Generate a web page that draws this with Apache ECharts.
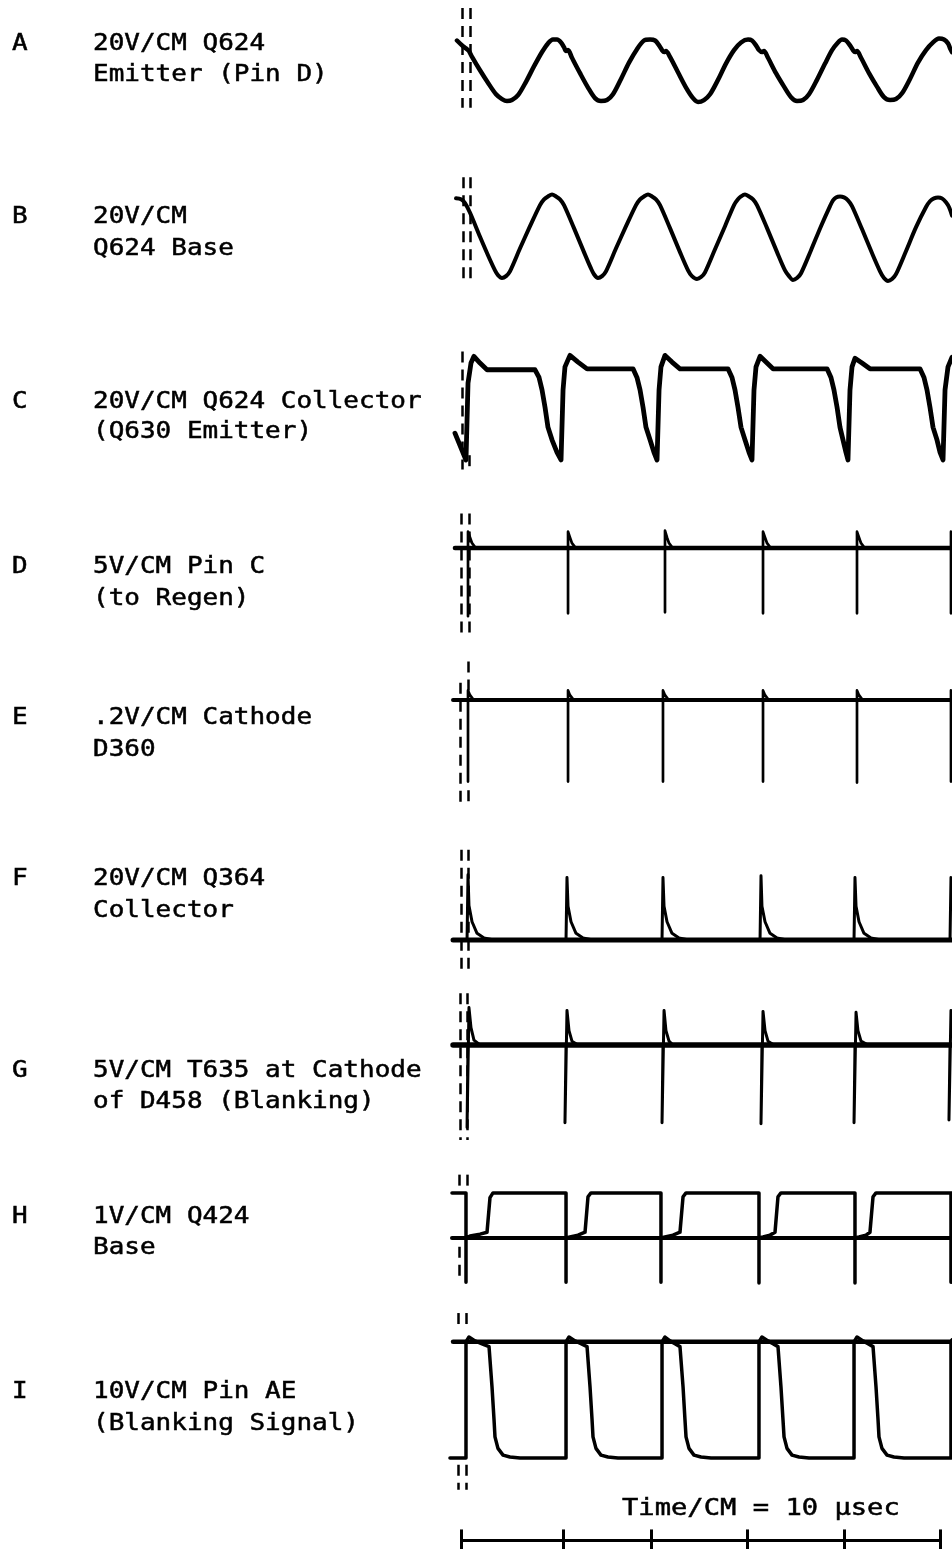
<!DOCTYPE html>
<html><head><meta charset="utf-8">
<script src="https://cdn.jsdelivr.net/npm/echarts@6/dist/echarts.min.js"></script>
<style>html,body{margin:0;padding:0;background:#fff}#c{width:952px;height:1549px}</style>
</head><body><div id="c"></div>
<script>
// ---------------- DATA (time in µs, deflection in cm of screen) ----------------
const traceLetters = ['A','B','C','D','E','F','G','H','I'];
const labelFirstLines = ['20V/CM Q624','20V/CM','20V/CM Q624 Collector','5V/CM Pin C','.2V/CM Cathode','20V/CM Q364','5V/CM T635 at Cathode','1V/CM Q424','10V/CM Pin AE'];
const labelSecondLines = ['Emitter (Pin D)','Q624 Base','(Q630 Emitter)','(to Regen)','D360','Collector','of D458 (Blanking)','Base','(Blanking Signal)'];
const timeCaption = 'Time/CM = 10 µsec';

const traceA = [[-0.42,0.63],[0.21,0.57],[0.63,0.54],[0.83,0.52],[1.15,0.46],[1.98,0.32],[2.81,0.19],[3.65,0.07],[4.27,0.02],[4.79,0],[5.31,0.01],[5.94,0.06],[6.77,0.20],[7.60,0.36],[8.44,0.51],[9.06,0.60],[9.58,0.64],[10.00,0.64],[10.42,0.61],[10.73,0.56],[10.94,0.52],[11.15,0.53],[11.56,0.45],[12.40,0.29],[13.23,0.14],[13.96,0.03],[14.58,0],[15.21,0.01],[15.83,0.07],[16.67,0.23],[17.50,0.40],[18.33,0.54],[19.06,0.63],[19.69,0.64],[20.21,0.63],[20.63,0.58],[20.94,0.53],[21.15,0.51],[21.35,0.52],[21.77,0.46],[22.60,0.30],[23.44,0.14],[24.17,0.03],[24.69,-0.01],[25.31,0.01],[25.94,0.07],[26.77,0.22],[27.60,0.39],[28.44,0.53],[29.17,0.61],[29.90,0.64],[30.31,0.63],[30.73,0.58],[31.04,0.53],[31.35,0.51],[31.56,0.52],[31.98,0.45],[32.81,0.29],[33.65,0.15],[34.38,0.04],[35.00,0],[35.63,0.01],[36.25,0.07],[37.08,0.22],[37.92,0.39],[38.65,0.53],[39.27,0.61],[39.69,0.64],[40.10,0.63],[40.52,0.58],[40.83,0.53],[41.04,0.51],[41.25,0.52],[41.67,0.45],[42.50,0.29],[43.33,0.15],[44.06,0.04],[44.69,0.01],[45.31,0.02],[45.94,0.08],[46.77,0.23],[47.60,0.40],[48.44,0.53],[49.17,0.61],[49.79,0.65],[50.31,0.64],[50.73,0.60],[50.94,0.55],[51.15,0.51]];

const traceB = [[-0.52,0.84],[0,0.83],[0.42,0.79],[0.94,0.69],[1.98,0.44],[3.02,0.20],[3.54,0.09],[3.85,0.04],[4.27,0.01],[4.69,0.03],[5.10,0.08],[6.15,0.32],[7.19,0.55],[8.23,0.77],[8.65,0.83],[9.06,0.86],[9.48,0.88],[9.90,0.86],[10.31,0.83],[10.73,0.77],[11.77,0.53],[12.81,0.28],[13.54,0.11],[13.85,0.05],[14.27,0.01],[14.69,0.03],[15.10,0.08],[16.15,0.32],[17.19,0.55],[18.23,0.77],[18.65,0.83],[19.06,0.86],[19.48,0.88],[19.90,0.86],[20.31,0.83],[20.73,0.77],[21.77,0.53],[22.81,0.28],[23.65,0.09],[24.06,0.03],[24.58,0],[25.00,0.02],[25.42,0.07],[26.46,0.31],[27.50,0.55],[28.44,0.77],[28.85,0.83],[29.17,0.86],[29.58,0.88],[30.00,0.86],[30.42,0.83],[30.83,0.77],[31.88,0.53],[32.92,0.28],[33.75,0.09],[34.17,0.03],[34.58,-0.01],[35.00,0.01],[35.42,0.06],[36.46,0.30],[37.50,0.55],[38.44,0.76],[38.75,0.82],[39.06,0.85],[39.48,0.86],[39.90,0.85],[40.31,0.82],[40.73,0.76],[41.77,0.52],[42.81,0.27],[43.65,0.08],[44.06,0.01],[44.48,-0.02],[44.90,0],[45.31,0.05],[46.35,0.29],[47.40,0.54],[48.44,0.75],[48.85,0.81],[49.27,0.84],[49.69,0.85],[50.10,0.84],[50.52,0.80],[50.83,0.75],[51.15,0.66]];

const traceC = [[-0.63,0.28],[0.52,0],[0.73,0.80],[1.04,1.01],[1.35,1.08],[1.98,1.01],[2.71,0.94],[7.71,0.94],[8.13,0.86],[8.44,0.73],[8.75,0.55],[9.06,0.34],[9.48,0.21],[10.00,0.08],[10.42,0],[10.63,0.73],[10.83,0.97],[11.35,1.09],[12.19,1.02],[13.13,0.95],[17.92,0.95],[18.33,0.86],[18.65,0.73],[18.96,0.55],[19.27,0.34],[19.69,0.21],[20.10,0.08],[20.42,0],[20.63,0.73],[20.83,0.97],[21.25,1.09],[21.98,1.02],[22.81,0.95],[27.81,0.95],[28.23,0.86],[28.54,0.73],[28.85,0.55],[29.17,0.34],[29.58,0.21],[30.00,0.08],[30.31,0],[30.52,0.73],[30.73,0.97],[31.15,1.08],[31.77,1.02],[32.50,0.95],[38.13,0.95],[38.54,0.86],[38.85,0.73],[39.17,0.55],[39.48,0.34],[39.79,0.21],[40.10,0.08],[40.31,0],[40.52,0.73],[40.73,0.97],[41.04,1.06],[41.77,1.01],[42.60,0.95],[47.81,0.95],[48.23,0.86],[48.54,0.73],[48.85,0.55],[49.17,0.34],[49.58,0.21],[49.90,0.08],[50.21,0],[50.42,0.73],[50.73,0.97],[51.15,1.07]];

const traceD = [[-0.63,0],[0.73,0],[0.73,-0.71],[0.73,0.17],[0.94,0.11],[1.15,0.05],[1.46,0.01],[1.98,0],[11.15,0],[11.15,-0.68],[11.15,0.17],[11.35,0.11],[11.56,0.05],[11.88,0.01],[12.40,0],[21.25,0],[21.25,-0.67],[21.25,0.18],[21.46,0.11],[21.67,0.05],[21.98,0.01],[22.50,0],[31.46,0],[31.46,-0.68],[31.46,0.17],[31.67,0.11],[31.88,0.05],[32.19,0.01],[32.71,0],[41.25,0],[41.25,-0.68],[41.25,0.17],[41.46,0.11],[41.67,0.05],[41.98,0.01],[42.50,0],[51.04,0],[51.04,-0.68],[51.04,0.17],[51.15,0.15]];
const traceDBase = [[-0.63,0],[51.15,0]];

const traceE = [[-0.83,0],[0.73,0],[0.73,-0.85],[0.73,0.10],[0.94,0.05],[1.25,0.01],[1.67,0],[11.15,0],[11.15,-0.85],[11.15,0.10],[11.35,0.05],[11.67,0.01],[12.08,0],[21.04,0],[21.04,-0.85],[21.04,0.10],[21.25,0.05],[21.56,0.01],[21.98,0],[31.46,0],[31.46,-0.85],[31.46,0.10],[31.67,0.05],[31.98,0.01],[32.40,0],[41.25,0],[41.25,-0.86],[41.25,0.10],[41.46,0.05],[41.77,0.01],[42.19,0],[51.04,0],[51.04,-0.85],[51.04,0.10],[51.15,0.08]];
const traceEBase = [[-0.83,0],[51.15,0]];

const traceF = [[-0.83,0],[0.63,0],[0.73,0.68],[0.83,0.36],[1.15,0.19],[1.67,0.07],[2.40,0.02],[3.44,0],[10.94,0],[11.04,0.65],[11.15,0.35],[11.46,0.19],[11.98,0.07],[12.71,0.02],[13.75,0],[20.94,0],[21.04,0.65],[21.15,0.35],[21.46,0.19],[21.98,0.07],[22.71,0.02],[23.75,0],[31.15,0],[31.25,0.67],[31.35,0.35],[31.67,0.19],[32.19,0.07],[32.92,0.02],[33.96,0],[40.94,0],[41.04,0.65],[41.15,0.35],[41.46,0.19],[41.98,0.07],[42.71,0.02],[43.75,0],[50.94,0],[51.04,0.65],[51.15,0.42]];
const traceFBase = [[-0.83,0],[51.15,0]];

const traceG = [[-0.83,0],[0.73,0],[0.63,-0.86],[0.83,0.39],[1.04,0.18],[1.35,0.05],[1.98,0],[10.94,0],[10.83,-0.81],[11.04,0.36],[11.25,0.15],[11.56,0.04],[12.19,0],[21.04,0],[20.94,-0.81],[21.15,0.36],[21.35,0.15],[21.67,0.04],[22.08,0],[31.35,0],[31.25,-0.82],[31.46,0.35],[31.67,0.15],[31.98,0.04],[32.60,0],[41.04,0],[40.94,-0.81],[41.15,0.34],[41.35,0.15],[41.67,0.04],[42.40,0],[50.94,0],[50.83,-0.78],[51.04,0.36],[51.15,0.26]];
const traceGBase = [[-0.83,0],[51.15,0]];

const traceH = [[-0.94,0.47],[0.52,0.47],[0.52,-0.46],[0.52,0],[0.94,0.02],[1.98,0.04],[2.71,0.06],[3.02,0.42],[3.33,0.47],[10.94,0.47],[10.94,-0.46],[10.94,0],[11.35,0.01],[12.19,0.03],[12.92,0.06],[13.23,0.43],[13.54,0.47],[20.83,0.47],[20.83,-0.46],[20.83,0],[21.25,0.01],[22.08,0.03],[22.81,0.06],[23.13,0.43],[23.44,0.47],[31.04,0.47],[31.04,-0.47],[31.04,0],[31.46,0.01],[32.19,0.03],[32.71,0.06],[33.02,0.43],[33.33,0.47],[41.04,0.47],[41.04,-0.47],[41.04,0],[41.46,0.01],[42.19,0.03],[42.60,0.06],[42.92,0.43],[43.23,0.47],[51.04,0.47],[51.04,-0.46],[51.04,0],[51.15,0]];
const traceHBase = [[-0.94,0],[51.15,0]];

const traceI = [[-1.15,0],[0.52,0],[0.52,1.21],[0.83,1.26],[1.46,1.22],[2.19,1.19],[2.92,1.16],[3.23,0.74],[3.44,0.40],[3.54,0.22],[3.85,0.10],[4.38,0.03],[5.10,0.01],[6.15,0],[10.94,0],[10.94,1.21],[11.25,1.26],[11.88,1.22],[12.50,1.19],[13.13,1.16],[13.44,0.74],[13.65,0.40],[13.75,0.22],[14.06,0.10],[14.58,0.03],[15.31,0.01],[16.35,0],[20.94,0],[20.94,1.21],[21.25,1.26],[21.77,1.22],[22.29,1.19],[22.81,1.16],[23.13,0.74],[23.33,0.40],[23.44,0.22],[23.75,0.10],[24.27,0.03],[25.00,0.01],[26.04,0],[31.04,0],[31.04,1.21],[31.35,1.26],[31.98,1.22],[32.50,1.19],[33.02,1.16],[33.33,0.74],[33.54,0.40],[33.65,0.22],[33.96,0.10],[34.48,0.03],[35.21,0.01],[36.25,0],[40.94,0],[40.94,1.21],[41.25,1.26],[41.88,1.22],[42.40,1.19],[42.92,1.16],[43.23,0.74],[43.44,0.40],[43.54,0.22],[43.85,0.10],[44.38,0.03],[45.10,0.01],[46.15,0],[51.04,0],[51.04,1.21],[51.15,1.23]];
const traceITop = [[-0.83,1.21],[51.15,1.21]];

// dashed left-edge marks: [time, from, to]
const marksA = [[0.10,0.97,-0.07],[0.94,0.97,-0.07]];
const marksB = [[0.21,1.06,-0.01],[0.94,1.06,-0.01]];
const marksC = [[0.10,1.13,-0.10],[0.83,0.05,-0.10]];
const marksD = [[0,0.36,-0.92],[0.83,0.36,-0.92]];
const marksE = [[-0.10,0.18,-1.07],[0.73,0.40,0.10],[0.73,-0.94,-1.07]];
const marksF = [[0,0.94,-0.33],[0.73,0.94,-0.33]];
const marksG = [[-0.10,0.54,-0.99],[0.63,0.54,-0.99]];
const marksH = [[-0.21,0.66,0.53],[0.63,0.66,0.53],[-0.21,-0.09,-0.44]];
const marksI = [[-0.31,1.51,1.33],[0.52,1.51,1.33],[-0.31,-0.07,-0.33],[0.52,-0.07,-0.33]];

const scaleTicks = [0, 10.7, 19.8, 29.8, 39.9, 49.9];

// ---------------- LAYOUT ----------------
const PX_PER_CM = 96, PX_PER_US = 9.6, T0_PX = 461;
const PLOT_LEFT = 440, PLOT_RIGHT = 952, PAGE_H = 1549;
const xMin = (PLOT_LEFT - T0_PX) / PX_PER_US, xMax = (PLOT_RIGHT - T0_PX) / PX_PER_US;
const baselinePx = [101, 279, 460, 548, 700, 940, 1045, 1238, 1458];
const scaleBaselinePx = 1540;
const label1Y = [44, 217, 402, 567, 718, 879, 1071, 1217, 1392];
const label2Y = [75, 249, 432, 599, 750, 911, 1102, 1248, 1424];
const LETTER_X = 12, TEXT_X = 93, TEXT_SCALE = 1.13, CAPTION_SCALE = 1.18;
const captionPos = [622, 1509];

const grids = [], xAxes = [], yAxes = [], series = [];
function addPanel(y0, above, below) {
  above = Math.min(above, y0 - 1);
  below = Math.min(below, PAGE_H - 1 - y0);
  const idx = grids.length;
  grids.push({left: PLOT_LEFT, width: PLOT_RIGHT - PLOT_LEFT, top: y0 - above, height: above + below,
    containLabel: false, outerBoundsMode: 'none'});
  xAxes.push({type: 'value', gridIndex: idx, min: xMin, max: xMax, show: false});
  yAxes.push({type: 'value', gridIndex: idx, min: -below / PX_PER_CM, max: above / PX_PER_CM, show: false});
  return idx;
}
function addLine(idx, data, width, smooth) {
  series.push({type: 'line', xAxisIndex: idx, yAxisIndex: idx, data: data, symbol: 'none', showSymbol: false,
    smooth: smooth || false, clip: false, silent: true, animation: false, z: 3,
    lineStyle: {color: '#000', width: width, join: 'round', cap: 'round'}});
}
function addSegments(idx, segs, width, dash) {
  series.push({type: 'lines', coordinateSystem: 'cartesian2d', xAxisIndex: idx, yAxisIndex: idx,
    data: segs.map(s => ({coords: [[s[0], s[1]], [s[0], s[2]]]})), silent: true, animation: false, z: 2, clip: false,
    lineStyle: {color: '#000', width: width, type: dash || 'solid', opacity: 1, curveness: 0}});
}

const panels = [
  {main: traceA, w: 4.5, smooth: 0.3, marks: marksA},
  {main: traceB, w: 4, smooth: 0.3, marks: marksB},
  {main: traceC, w: 4.8, marks: marksC},
  {main: traceD, w: 2.7, base: traceDBase, bw: 4.5, marks: marksD},
  {main: traceE, w: 2.7, base: traceEBase, bw: 4, marks: marksE},
  {main: traceF, w: 3, base: traceFBase, bw: 5, marks: marksF},
  {main: traceG, w: 3, base: traceGBase, bw: 5.5, marks: marksG},
  {main: traceH, w: 3.5, base: traceHBase, bw: 4, marks: marksH},
  {main: traceI, w: 3.5, base: traceITop, bw: 4.5, marks: marksI}
];
panels.forEach((p, i) => {
  const idx = addPanel(baselinePx[i], 170, 130);
  addSegments(idx, p.marks, 2.5, [11, 7]);
  if (p.base) addLine(idx, p.base, p.bw);
  addLine(idx, p.main, p.w, p.smooth);
});
// time scale bar
const sIdx = addPanel(scaleBaselinePx, 40, 8);
series.push({type: 'lines', coordinateSystem: 'cartesian2d', xAxisIndex: sIdx, yAxisIndex: sIdx, silent: true, animation: false, clip: false,
  data: [{coords: [[scaleTicks[0], 0], [scaleTicks[scaleTicks.length - 1], 0]]}],
  lineStyle: {color: '#000', width: 3, opacity: 1}});
addSegments(sIdx, scaleTicks.map(t => [t, 0.11, -0.11]), 3);

const textBase = {fontFamily: 'DejaVu Sans Mono', fontSize: 23, fill: '#000', stroke: '#000', lineWidth: 0.5,
  verticalAlign: 'middle', textVerticalAlign: 'middle', align: 'left', textAlign: 'left'};
const graphics = [];
traceLetters.forEach((L, i) => {
  graphics.push({type: 'text', x: LETTER_X, y: label1Y[i], scaleX: TEXT_SCALE, silent: true, style: Object.assign({text: L}, textBase)});
  graphics.push({type: 'text', x: TEXT_X, y: label1Y[i], scaleX: TEXT_SCALE, silent: true, style: Object.assign({text: labelFirstLines[i]}, textBase)});
  graphics.push({type: 'text', x: TEXT_X, y: label2Y[i], scaleX: TEXT_SCALE, silent: true, style: Object.assign({text: labelSecondLines[i]}, textBase)});
});
graphics.push({type: 'text', x: captionPos[0], y: captionPos[1], scaleX: CAPTION_SCALE, silent: true, style: Object.assign({text: timeCaption}, textBase)});

const chart = echarts.init(document.getElementById('c'), null, {renderer: 'canvas', width: 952, height: 1549});
chart.setOption({
  backgroundColor: '#ffffff',
  animation: false,
  grid: grids, xAxis: xAxes, yAxis: yAxes, series: series,
  graphic: graphics
});
</script></body></html>
